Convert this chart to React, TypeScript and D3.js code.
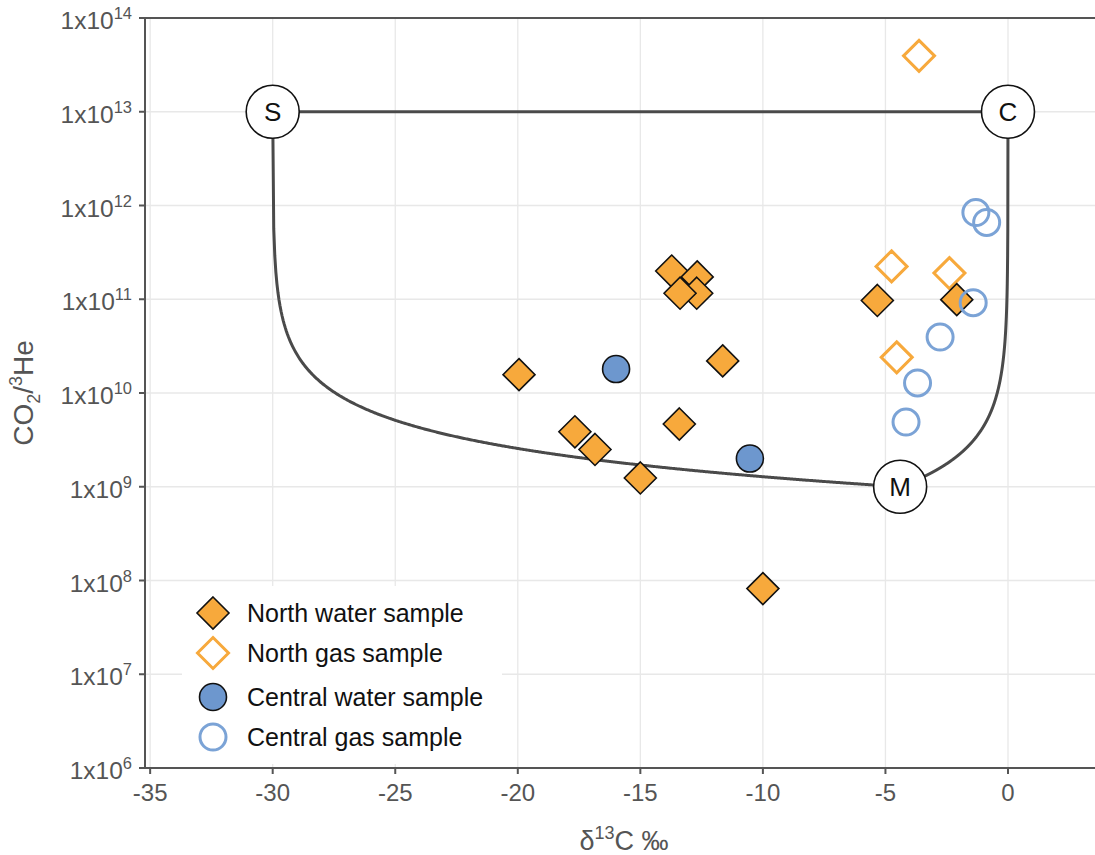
import React, { useEffect, useRef } from 'react';
import * as d3 from 'd3';

// end members of the mixing model
const endNames = ['S', 'C', 'M'];
const endD13C = [-30, 0, -4.4];
const endRatio = [1e13, 1e13, 1e9];

// samples
const northWaterD13C = [-19.95, -17.67, -16.85, -15.0, -13.41, -11.64, -10.0, -13.72, -12.68, -12.7, -13.38, -5.33, -2.09];
const northWaterRatio = [1.57e10, 3.86e9, 2.5e9, 1.24e9, 4.67e9, 2.2e10, 8.2e7, 2.0e11, 1.73e11, 1.16e11, 1.16e11, 9.7e10, 9.9e10];

const northGasD13C = [-3.63, -4.75, -2.39, -4.54];
const northGasRatio = [3.95e13, 2.24e11, 1.9e11, 2.4e10];

const centralWaterD13C = [-15.99, -10.53];
const centralWaterRatio = [1.8e10, 2.0e9];

const centralGasD13C = [-1.31, -0.87, -1.42, -2.77, -3.69, -4.16];
const centralGasRatio = [8.4e11, 6.6e11, 9.2e10, 3.95e10, 1.28e10, 4.9e9];

const xTicks = [-35, -30, -25, -20, -15, -10, -5, 0];
const yExponents = [6, 7, 8, 9, 10, 11, 12, 13, 14];

const legendLabels = ['North water sample', 'North gas sample', 'Central water sample', 'Central gas sample'];

const ORANGE = '#f7a93c';
const BLUE = '#6d97ce';
const BLUE_LINE = '#7ba3d6';
const AXIS = '#555555';
const GRID = '#e8e8e8';
const FONT = '"Liberation Sans", Arial, Helvetica, sans-serif';

const App = () => {
    const chartRef = useRef<SVGSVGElement | null>(null);

    useEffect(() => {
        const svg = d3.select(chartRef.current);
        svg.selectAll('*').remove();

        const left = 145, right = 1095, top = 18, bottom = 768;

        const x = d3.scaleLinear().domain([-35.21, 3.55]).range([left, right]);
        const y = d3.scaleLog().domain([1e6, 1e14]).range([bottom, top]);

        // grid
        const grid = svg.append('g');
        grid.selectAll('line.gx')
            .data(xTicks)
            .enter().append('line')
            .attr('x1', d => x(d)).attr('x2', d => x(d))
            .attr('y1', top).attr('y2', bottom)
            .attr('stroke', GRID).attr('stroke-width', 1.3);
        grid.selectAll('line.gy')
            .data(yExponents)
            .enter().append('line')
            .attr('x1', left).attr('x2', right)
            .attr('y1', d => y(Math.pow(10, d))).attr('y2', d => y(Math.pow(10, d)))
            .attr('stroke', GRID).attr('stroke-width', 1.3);

        // mixing curves (CO2 fraction from end member a)
        const mix = (a: number, b: number) => {
            const pts: [number, number][] = [];
            const n = 600;
            for (let i = 0; i <= n; i++) {
                const g = i / n;
                const d = g * endD13C[a] + (1 - g) * endD13C[b];
                const r = 1 / (g / endRatio[a] + (1 - g) / endRatio[b]);
                pts.push([x(d), y(r)]);
            }
            return pts;
        };
        const line = d3.line();
        [[0, 1], [0, 2], [1, 2]].forEach(([a, b]) => {
            svg.append('path')
                .attr('d', line(mix(a, b)))
                .attr('fill', 'none')
                .attr('stroke', '#4a4a4a')
                .attr('stroke-width', 3);
        });

        // end member circles
        const ends = svg.append('g');
        endNames.forEach((name, i) => {
            ends.append('circle')
                .attr('cx', x(endD13C[i])).attr('cy', y(endRatio[i]))
                .attr('r', 26.5)
                .attr('fill', '#fff').attr('stroke', '#111').attr('stroke-width', 1.6);
            ends.append('text')
                .attr('x', x(endD13C[i])).attr('y', y(endRatio[i]))
                .attr('dy', '0.36em')
                .attr('text-anchor', 'middle')
                .style('font-family', FONT).style('font-size', '26px')
                .attr('fill', '#111')
                .text(name);
        });

        const diamond = (cx: number, cy: number, s: number) =>
            `M${cx},${cy - s}L${cx + s},${cy}L${cx},${cy + s}L${cx - s},${cy}Z`;

        const drawDiamonds = (g: any, xs: number[], ys: number[], filled: boolean) => {
            xs.forEach((d, i) => {
                g.append('path')
                    .attr('d', diamond(x(d), y(ys[i]), filled ? 16 : 15.5))
                    .attr('fill', filled ? ORANGE : 'none')
                    .attr('stroke', filled ? '#111' : ORANGE)
                    .attr('stroke-width', filled ? 1.6 : 3);
            });
        };
        const drawCircles = (g: any, xs: number[], ys: number[], filled: boolean) => {
            xs.forEach((d, i) => {
                g.append('circle')
                    .attr('cx', x(d)).attr('cy', y(ys[i]))
                    .attr('r', filled ? 13.5 : 13)
                    .attr('fill', filled ? BLUE : 'none')
                    .attr('stroke', filled ? '#111' : BLUE_LINE)
                    .attr('stroke-width', filled ? 1.6 : 3);
            });
        };

        const pts = svg.append('g');
        drawDiamonds(pts, northGasD13C, northGasRatio, false);
        drawDiamonds(pts, northWaterD13C, northWaterRatio, true);
        drawCircles(pts, centralWaterD13C, centralWaterRatio, true);
        drawCircles(pts, centralGasD13C, centralGasRatio, false);

        // legend
        const leg = svg.append('g');
        leg.append('rect')
            .attr('x', 182).attr('y', 586).attr('width', 320).attr('height', 178)
            .attr('fill', '#fff');
        const rowY = [613, 653, 697, 737];
        const lx = 213;
        leg.append('path').attr('d', diamond(lx, rowY[0], 16))
            .attr('fill', ORANGE).attr('stroke', '#111').attr('stroke-width', 1.6);
        leg.append('path').attr('d', diamond(lx, rowY[1], 15.5))
            .attr('fill', 'none').attr('stroke', ORANGE).attr('stroke-width', 3);
        leg.append('circle').attr('cx', lx).attr('cy', rowY[2]).attr('r', 13.5)
            .attr('fill', BLUE).attr('stroke', '#111').attr('stroke-width', 1.6);
        leg.append('circle').attr('cx', lx).attr('cy', rowY[3]).attr('r', 13)
            .attr('fill', 'none').attr('stroke', BLUE_LINE).attr('stroke-width', 3);
        legendLabels.forEach((t, i) => {
            leg.append('text')
                .attr('x', 247).attr('y', rowY[i]).attr('dy', '0.36em')
                .style('font-family', FONT).style('font-size', '25px')
                .attr('fill', '#111')
                .text(t);
        });

        // axes
        const ax = svg.append('g');
        ax.append('line').attr('x1', left).attr('x2', left).attr('y1', top).attr('y2', bottom)
            .attr('stroke', AXIS).attr('stroke-width', 2);
        ax.append('line').attr('x1', left).attr('x2', right).attr('y1', bottom).attr('y2', bottom)
            .attr('stroke', AXIS).attr('stroke-width', 2);
        ax.append('line').attr('x1', left).attr('x2', right).attr('y1', top).attr('y2', top)
            .attr('stroke', AXIS).attr('stroke-width', 2);

        xTicks.forEach(t => {
            ax.append('line').attr('x1', x(t)).attr('x2', x(t)).attr('y1', bottom).attr('y2', bottom + 6)
                .attr('stroke', AXIS).attr('stroke-width', 2);
            ax.append('text')
                .attr('x', x(t)).attr('y', bottom + 33)
                .attr('text-anchor', 'middle')
                .style('font-family', FONT).style('font-size', '24px')
                .attr('fill', '#555')
                .text(t);
        });

        yExponents.forEach(e => {
            const yy = y(Math.pow(10, e));
            ax.append('line').attr('x1', left - 6).attr('x2', left).attr('y1', yy).attr('y2', yy)
                .attr('stroke', AXIS).attr('stroke-width', 2);
            const txt = ax.append('text')
                .attr('x', 132).attr('y', yy + 11)
                .attr('text-anchor', 'end')
                .style('font-family', FONT).style('font-size', '24.5px')
                .attr('fill', '#555');
            txt.append('tspan').text('1x10');
            txt.append('tspan').attr('dy', -10).style('font-size', '16.5px').text(e);
        });

        // axis titles
        const xt = svg.append('text')
            .attr('x', 624).attr('y', 850)
            .attr('text-anchor', 'middle')
            .style('font-family', FONT).style('font-size', '27px')
            .attr('fill', '#555');
        xt.append('tspan').text('δ');
        xt.append('tspan').attr('dy', -11).style('font-size', '18px').text('13');
        xt.append('tspan').attr('dy', 11).text('C ‰');

        const yt = svg.append('text')
            .attr('transform', 'translate(33,393) rotate(-90)')
            .attr('text-anchor', 'middle')
            .style('font-family', FONT).style('font-size', '28px')
            .attr('fill', '#555');
        yt.append('tspan').text('CO');
        yt.append('tspan').attr('dy', 7).style('font-size', '18px').text('2');
        yt.append('tspan').attr('dy', -7).text('/');
        yt.append('tspan').attr('dy', -11).style('font-size', '18px').text('3');
        yt.append('tspan').attr('dy', 11).text('He');
    }, []);

    return (
        <svg
            ref={chartRef}
            width={1095}
            height={855}
            style={{ position: 'absolute', left: 0, top: 0, background: '#fff' }}
        />
    );
};

export default App;
